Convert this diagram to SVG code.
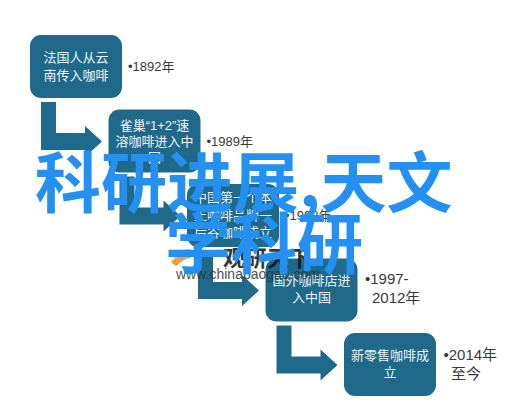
<svg xmlns="http://www.w3.org/2000/svg" width="520" height="412" viewBox="0 0 520 412">
<style>
.box{fill:#1f6a8b}
.arr{fill:#1f6a8b}
.bt{font-family:"Liberation Sans","Noto Sans CJK SC",sans-serif;font-size:13px;fill:#eef3f6;text-anchor:middle}
.lb{font-family:"Liberation Sans","Noto Sans CJK SC",sans-serif;font-size:13px;fill:#3a3a3a}
.lb2{font-family:"Liberation Sans","Noto Sans CJK SC",sans-serif;font-size:15px;fill:#3a3a3a}
.wm{font-family:"Noto Sans CJK SC",sans-serif;font-weight:bold;font-size:66px;fill:#2390f2}
</style>
<rect width="520" height="412" fill="#ffffff"/>
<g id="connectors">
<path class="arr" d="M41 102H56V133H85V126L102 141.5L85 157V150H41Z"/>
<path class="arr" d="M119.5 176.5H134.5V207.5H163.5V200.5L180.5 216L163.5 231.5V224.5H119.5Z"/>
<path class="arr" d="M198 251H213V282H242V275L259 290.5L242 306V299H198Z"/>
<path class="arr" d="M276.5 325.5H291.5V356.5H320.5V349.5L337.5 365L320.5 380.5V373.5H276.5Z"/>
</g>
<g id="node1">
<rect class="box" x="30" y="35" width="92" height="63" rx="11"/>
<text class="bt" x="76" y="62" font-size="14">法国人从云</text>
<text class="bt" x="76" y="80" font-size="14">南传入咖啡</text>
<text class="lb" x="128" y="71">•1892年</text>
</g>
<g id="node2">
<rect class="box" x="108.5" y="109.5" width="92" height="63" rx="11"/>
<text class="bt" x="154.5" y="130">雀巢“1+2”速</text>
<text class="bt" x="154.5" y="146">溶咖啡进入中</text>
<text class="bt" x="154.5" y="162">国</text>
<text class="lb" x="206.5" y="146">•1989年</text>
</g>
<g id="node3">
<rect class="box" x="187" y="184" width="92" height="63" rx="11"/>
<text class="bt" x="233" y="202">中国第一个本</text>
<text class="bt" x="233" y="220">土咖啡品牌一</text>
<text class="bt" x="233" y="237">后谷咖啡成立</text>
<text class="lb" x="285" y="220">•1992年</text>
</g>
<g id="node4">
<rect class="box" x="265.5" y="258.5" width="92" height="63" rx="11"/>
<text class="bt" x="311.5" y="285">国外咖啡店进</text>
<text class="bt" x="311.5" y="302">入中国</text>
<text class="lb2" x="365" y="284">•1997-</text>
<text class="lb2" x="372" y="303">2012年</text>
</g>
<g id="node5">
<rect class="box" x="344" y="333" width="92" height="63" rx="11"/>
<text class="bt" x="390" y="360">新零售咖啡成</text>
<text class="bt" x="390" y="377">立</text>
<text class="lb2" x="443.5" y="360">•2014年</text>
<text class="lb2" x="451" y="379">至今</text>
</g>
<g id="watermark">
<path d="M171 262Q180 252 197 256Q184 258 176 266Z" fill="#f08a24" opacity="0.85"/>
<path d="M172 257Q178 248 192 249Q182 251 176 259Z" fill="#f5a84a" opacity="0.8"/>
<text x="223" y="266" font-family="Noto Sans CJK SC,sans-serif" font-weight="bold" font-size="22" fill="#111111" opacity="0.85">观研天下</text>
<text x="176" y="279" font-family="Liberation Sans,sans-serif" font-size="14" fill="#333333" opacity="0.85">www.chinabaogao.com</text>
<text class="wm" x="35" y="207">科研进展,天文</text>
<text class="wm" x="165" y="268">学科研</text>
</g>
</svg>
